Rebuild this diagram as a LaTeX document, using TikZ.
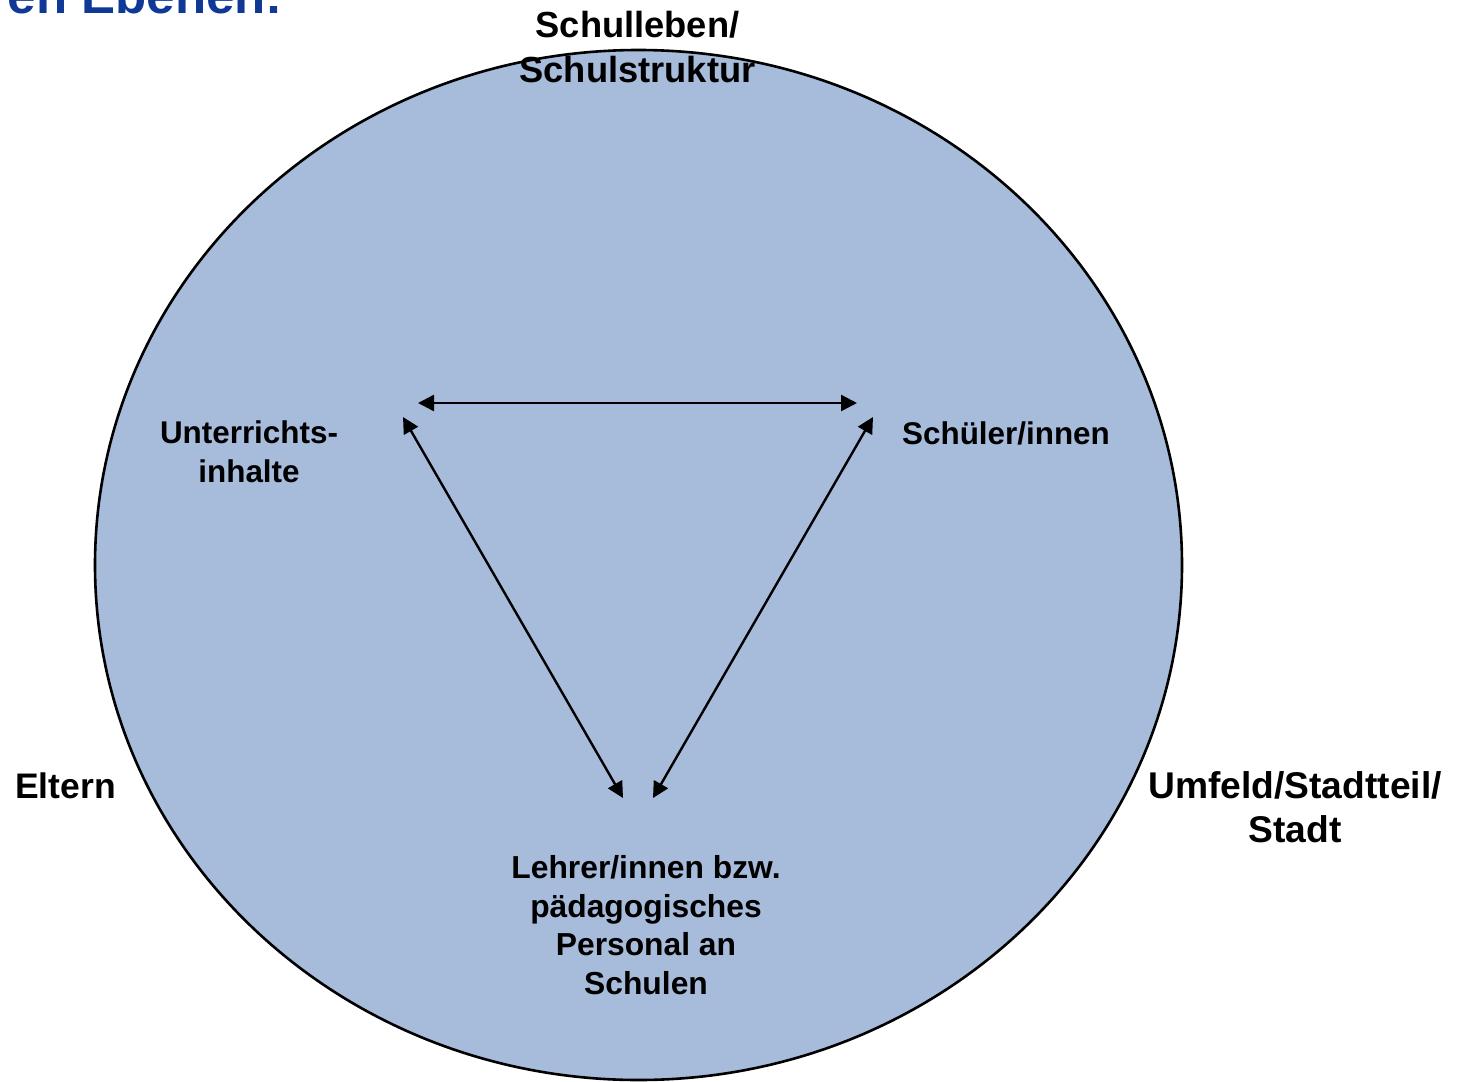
\documentclass[tikz,border=0pt]{standalone}
\usepackage{fontspec}
\setmainfont{Liberation Sans}
\usetikzlibrary{arrows.meta}
\definecolor{fillblue}{RGB}{167,187,218}
\definecolor{titleblue}{RGB}{16,57,150}
\tikzset{
  outerlbl/.style={font=\fontsize{35.5}{44.5}\selectfont\bfseries, align=center, inner sep=0pt},
  innerlbl/.style={font=\fontsize{31.4}{38.5}\selectfont\bfseries, align=center, inner sep=0pt},
  biarrow/.style={line width=2.4pt, {Triangle[length=16pt,width=16pt]}-{Triangle[length=16pt,width=16pt]}},
}
\begin{document}
\begin{tikzpicture}[x=1pt,y=-1pt]
\useasboundingbox (0,0) rectangle (1457,1082);
\clip (0,0) rectangle (1457,1082);
% title fragment
\node[anchor=base east, inner sep=0pt, text=titleblue, font=\fontsize{51}{60}\selectfont\bfseries] (title) at (283,13) {en Ebenen:};
% big ellipse
\draw[line width=2.6pt, fill=fillblue] (638.5,565) ellipse [x radius=543.5pt, y radius=515pt];
% labels (anchor base = baseline of last line)
\node[outerlbl, font=\fontsize{36.3}{44.5}\selectfont\bfseries, anchor=base] (schulleben) at (637.5,82) {Schulleben/\\Schulstruktur};
\node[outerlbl, anchor=base west] (eltern) at (15,798) {Eltern};
\node[outerlbl, font=\fontsize{37.2}{44}\selectfont\bfseries, anchor=base] (umfeld) at (1295,842) {Umfeld/Stadtteil/\\Stadt};
\node[innerlbl, anchor=base] (inhalte) at (249,482) {Unterrichts-\\inhalte};
\node[innerlbl, anchor=base west] (schueler) at (902,444) {Schüler/innen};
\node[innerlbl, font=\fontsize{31.8}{38.5}\selectfont\bfseries, anchor=base] (lehrer) at (646,994) {Lehrer/innen bzw.\\pädagogisches\\Personal an\\Schulen};
% arrow end points
\coordinate (hL) at (418,403);
\coordinate (hR) at (857,403);
\coordinate (dL) at (403,417);
\coordinate (dR) at (873,417);
\coordinate (bL) at (623,798);
\coordinate (bR) at (653,798);
\draw[biarrow] (hL) -- (hR);
\draw[biarrow] (dL) -- (bL);
\draw[biarrow] (dR) -- (bR);
\end{tikzpicture}
\end{document}
